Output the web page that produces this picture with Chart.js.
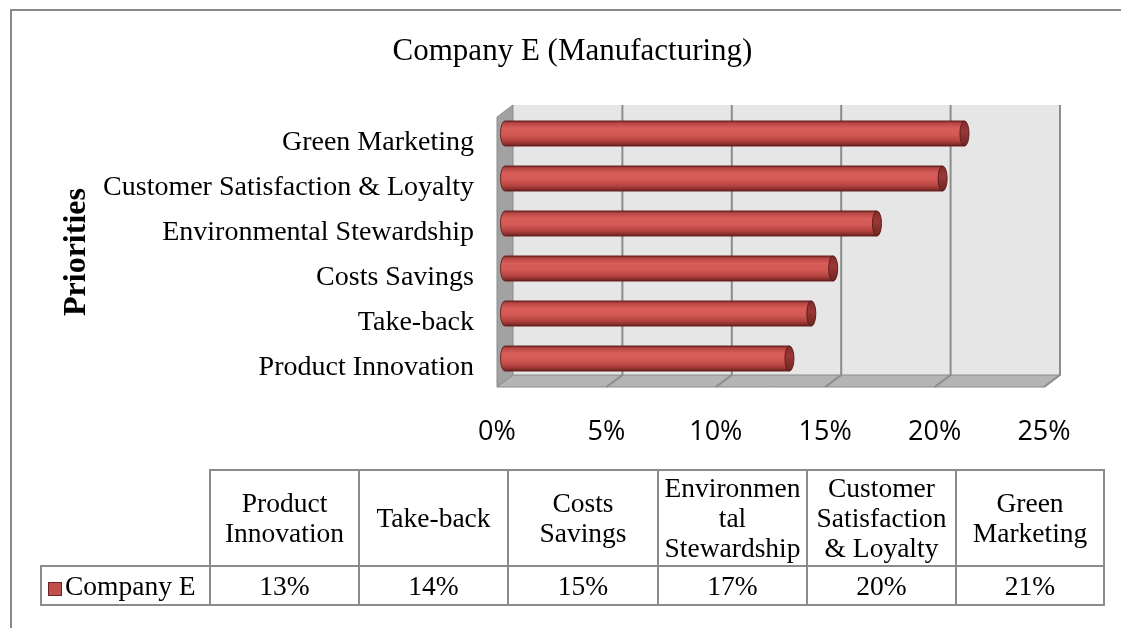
<!DOCTYPE html>
<html>
<head>
<meta charset="utf-8">
<title>Company E (Manufacturing)</title>
<script src="https://cdn.jsdelivr.net/npm/chart.js@4.4.0/dist/chart.umd.min.js"></script>
<style>
  html, body { margin: 0; padding: 0; background: #fff; }
  #wrap { position: relative; width: 1121px; height: 628px; overflow: hidden; }
  #frame {
    position: absolute; left: 10px; top: 9px; width: 1200px; height: 700px;
    border-left: 2px solid #898989; border-top: 2px solid #898989;
  }
  #chart { position: absolute; left: 0; top: 0; }
  #dataTable {
    position: absolute; left: 40px; top: 469px;
    border-collapse: collapse; table-layout: fixed;
    font-family: "Liberation Serif", "Times New Roman", serif;
    font-size: 27.5px; line-height: 30px; color: #000;
  }
  #dataTable td {
    border: 2px solid #8c8c8c; text-align: center; vertical-align: middle;
    padding: 0; white-space: pre-line;
  }
  #dataTable td.blank { border: none; }
  #dataTable tr.head td { height: 94px; }
  #dataTable tr.vals td { height: 37px; }
  #dataTable td.series { text-align: left; padding-left: 6px; white-space: nowrap; }
  .key {
    display: inline-block; width: 12px; height: 12px; margin-right: 3px;
    background: #c0504d; border: 1px solid #6e2222; vertical-align: -1px;
  }
</style>
</head>
<body>
<div id="wrap">
  <div id="frame"></div>
  <canvas id="chart" width="1121" height="628"></canvas>
  <table id="dataTable"></table>
</div>
<script>
const chartTitle = "Company E (Manufacturing)";
const categories = ["Product Innovation", "Take-back", "Costs Savings",
  "Environmental Stewardship", "Customer Satisfaction & Loyalty", "Green Marketing"];
const tableHeaders = ["Product\nInnovation", "Take-back", "Costs\nSavings",
  "Environmen\ntal\nStewardship", "Customer\nSatisfaction\n& Loyalty", "Green\nMarketing"];
const seriesName = "Company E";
const companyE = [13, 14, 15, 17, 20, 21];
const xTicks = [0, 5, 10, 15, 20, 25];

// depth of the 3-D box: back plane sits right and up of the front plane
const DX = 16, DY = -12;
const serif = "'Liberation Serif', 'Times New Roman', serif";

function poly(ctx, pts, fill, stroke) {
  ctx.beginPath();
  pts.forEach((p, i) => i ? ctx.lineTo(p[0], p[1]) : ctx.moveTo(p[0], p[1]));
  ctx.closePath();
  ctx.fillStyle = fill;
  ctx.fill();
  ctx.strokeStyle = stroke;
  ctx.lineWidth = 1;
  ctx.stroke();
}

const box3d = {
  id: "box3d",
  beforeDatasetsDraw(chart) {
    const { ctx, chartArea: a, scales: { x } } = chart;
    const L = a.left, R = a.right, T = a.top, B = a.bottom;
    ctx.save();
    // back wall
    ctx.fillStyle = "#e6e6e6";
    ctx.fillRect(L + DX, T + DY, R - L, B - T);
    // side wall and floor
    poly(ctx, [[L, T], [L + DX, T + DY], [L + DX, B + DY], [L, B]], "#a2a2a2", "#8a8a8a");
    poly(ctx, [[L, B], [L + DX, B + DY], [R + DX, B + DY], [R, B]], "#b4b4b4", "#8a8a8a");
    // gridlines up the wall and across the floor
    ctx.strokeStyle = "#8c8c8c";
    ctx.lineWidth = 2;
    x.ticks.forEach(t => {
      if (t.value === 0) return;
      const px = x.getPixelForValue(t.value);
      ctx.beginPath();
      ctx.moveTo(px + DX, T + DY);
      ctx.lineTo(px + DX, B + DY);
      ctx.lineTo(px, B);
      ctx.stroke();
    });
    ctx.restore();
  },
  afterDatasetsDraw(chart) {
    const { ctx } = chart;
    const meta = chart.getDatasetMeta(0);
    ctx.save();
    meta.data.forEach(bar => {
      const p = bar.getProps(["x", "y", "base", "height"], true);
      const x0 = p.base + DX / 2, x1 = p.x + DX / 2;
      const cy = p.y + DY / 2, r = p.height / 2, rx = 4.5;

      // cylinder body, shaded top to bottom
      const g = ctx.createLinearGradient(0, cy - r, 0, cy + r);
      g.addColorStop(0, "#7a2a28");
      g.addColorStop(0.1, "#b94845");
      g.addColorStop(0.3, "#d95e5a");
      g.addColorStop(0.55, "#d35955");
      g.addColorStop(0.8, "#b3423f");
      g.addColorStop(0.92, "#8a302e");
      g.addColorStop(1, "#5f1d1c");
      ctx.beginPath();
      ctx.moveTo(x1, cy - r);
      ctx.lineTo(x0, cy - r);
      ctx.ellipse(x0, cy, rx, r, 0, -Math.PI / 2, Math.PI / 2, true);
      ctx.lineTo(x1, cy + r);
      ctx.closePath();
      ctx.fillStyle = g;
      ctx.fill();
      ctx.strokeStyle = "#6a2322";
      ctx.lineWidth = 1;
      ctx.stroke();

      // end cap
      const cg = ctx.createLinearGradient(0, cy - r, 0, cy + r);
      cg.addColorStop(0, "#7d2c2a");
      cg.addColorStop(0.4, "#9a3836");
      cg.addColorStop(1, "#6e2524");
      ctx.beginPath();
      ctx.ellipse(x1, cy, rx, r, 0, 0, Math.PI * 2);
      ctx.fillStyle = cg;
      ctx.fill();
      ctx.strokeStyle = "#5c1c1b";
      ctx.stroke();
    });
    ctx.restore();
  },
  // title is centred on the whole chart object, not just the plot
  afterDraw(chart) {
    const { ctx, width } = chart;
    ctx.save();
    ctx.font = "31px " + serif;
    ctx.fillStyle = "#000";
    ctx.textAlign = "center";
    ctx.textBaseline = "middle";
    ctx.fillText(chartTitle, width / 2 + 12, 52);
    ctx.restore();
  }
};

new Chart(document.getElementById("chart"), {
  type: "bar",
  data: {
    labels: categories,
    datasets: [{
      label: seriesName,
      data: companyE,
      backgroundColor: "rgba(0,0,0,0)",
      borderWidth: 0,
      barPercentage: 0.556,
      categoryPercentage: 1
    }]
  },
  options: {
    indexAxis: "y",
    responsive: false,
    devicePixelRatio: 1,
    animation: false,
    layout: { padding: { left: 0, right: 77, top: 117, bottom: 0 } },
    plugins: {
      legend: { display: false },
      tooltip: { enabled: false },
      title: { display: false }
    },
    scales: {
      x: {
        min: 0,
        max: 25,
        afterBuildTicks: s => { s.ticks = xTicks.map(v => ({ value: v })); },
        afterFit: s => { s.height = 241; },
        grid: { display: false },
        border: { display: false },
        ticks: {
          maxRotation: 0,
          autoSkip: false,
          padding: 21,
          color: "#000",
          font: { family: "'Open Sans', sans-serif", size: 27 },
          callback: v => v + "%"
        }
      },
      y: {
        reverse: true,
        afterFit: s => { s.width = 497; },
        grid: { display: false },
        border: { display: false },
        ticks: {
          padding: 15,
          labelOffset: 3,
          color: "#000",
          font: { family: serif, size: 28 }
        },
        title: {
          display: true,
          text: "Priorities",
          color: "#000",
          font: { family: serif, size: 32, weight: "bold", lineHeight: 1.2 },
          padding: { top: 58, bottom: 0 }
        }
      }
    }
  },
  plugins: [box3d]
});

// data table under the chart
const table = document.getElementById("dataTable");
const colWidths = [169, 149, 149, 150, 149, 149, 148];
const cg = document.createElement("colgroup");
colWidths.forEach(w => {
  const c = document.createElement("col");
  c.style.width = w + "px";
  cg.appendChild(c);
});
table.appendChild(cg);

const head = document.createElement("tr");
head.className = "head";
head.innerHTML = '<td class="blank"></td>';
tableHeaders.forEach(h => {
  const td = document.createElement("td");
  td.textContent = h;
  head.appendChild(td);
});
table.appendChild(head);

const vals = document.createElement("tr");
vals.className = "vals";
const nameCell = document.createElement("td");
nameCell.className = "series";
nameCell.innerHTML = '<span class="key"></span>';
nameCell.appendChild(document.createTextNode(seriesName));
vals.appendChild(nameCell);
companyE.forEach(v => {
  const td = document.createElement("td");
  td.textContent = v + "%";
  vals.appendChild(td);
});
table.appendChild(vals);
</script>
</body>
</html>
